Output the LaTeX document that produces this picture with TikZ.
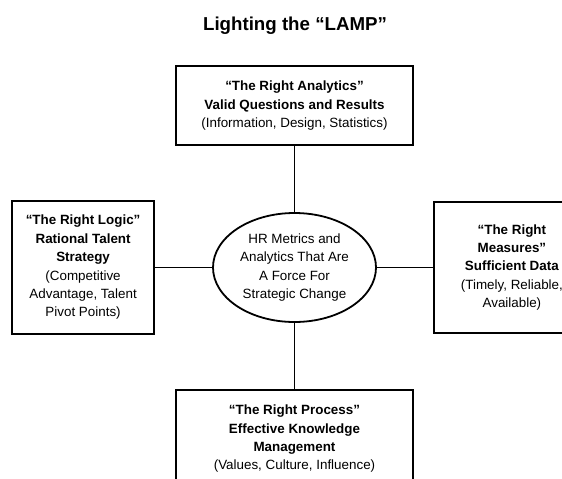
\documentclass[tikz,border=0pt]{standalone}
\usepackage{fontspec}
\setmainfont{Liberation Sans}
\usetikzlibrary{positioning, shapes.geometric}

\begin{document}
\begin{tikzpicture}[
        x=1pt, y=-1pt,
        box/.style={rectangle, draw, line width=2pt, align=center, inner sep=0pt, font=\fontsize{13.4}{18.4}\selectfont},
        hub/.style={ellipse, draw, line width=1.8pt, minimum width=163pt, minimum height=109pt, inner sep=0pt, align=center, font=\fontsize{13.4}{18.2}\selectfont},
        link/.style={line width=1.8pt},
    ]
        \useasboundingbox (0,0) rectangle (562,479);
        \clip (0,0) rectangle (562,479);

        % Title
        \node[anchor=base, font=\bfseries\fontsize{18.7}{22}\selectfont] (title) at (295,30) {Lighting the “LAMP”};

        % Centre
        \node[hub] (hub) at (294.5,267.5) {HR Metrics and\\Analytics That Are\\A Force For\\Strategic Change};

        % Four boxes
        \node[box, minimum width=237pt, minimum height=79pt, above=66pt of hub] (analytics)
            {\textbf{“The Right Analytics”}\\\textbf{Valid Questions and Results}\\(Information, Design, Statistics)};
        \node[box, minimum width=142pt, minimum height=133pt, left=57pt of hub] (logic)
            {\textbf{“The Right Logic”}\\\textbf{Rational Talent}\\\textbf{Strategy}\\(Competitive\\Advantage, Talent\\Pivot Points)};
        \node[box, minimum width=156pt, minimum height=131pt, right=56pt of hub] (measures)
            {\textbf{“The Right}\\\textbf{Measures”}\\\textbf{Sufficient Data}\\(Timely, Reliable,\\Available)};
        \node[box, minimum width=237pt, minimum height=98pt, below=66pt of hub] (process)
            {\textbf{“The Right Process”}\\\textbf{Effective Knowledge}\\\textbf{Management}\\(Values, Culture, Influence)};

        % Links
        \draw[link] (analytics) -- (hub);
        \draw[link] (logic) -- (hub);
        \draw[link] (measures) -- (hub);
        \draw[link] (process) -- (hub);

    \end{tikzpicture}
\end{document}
